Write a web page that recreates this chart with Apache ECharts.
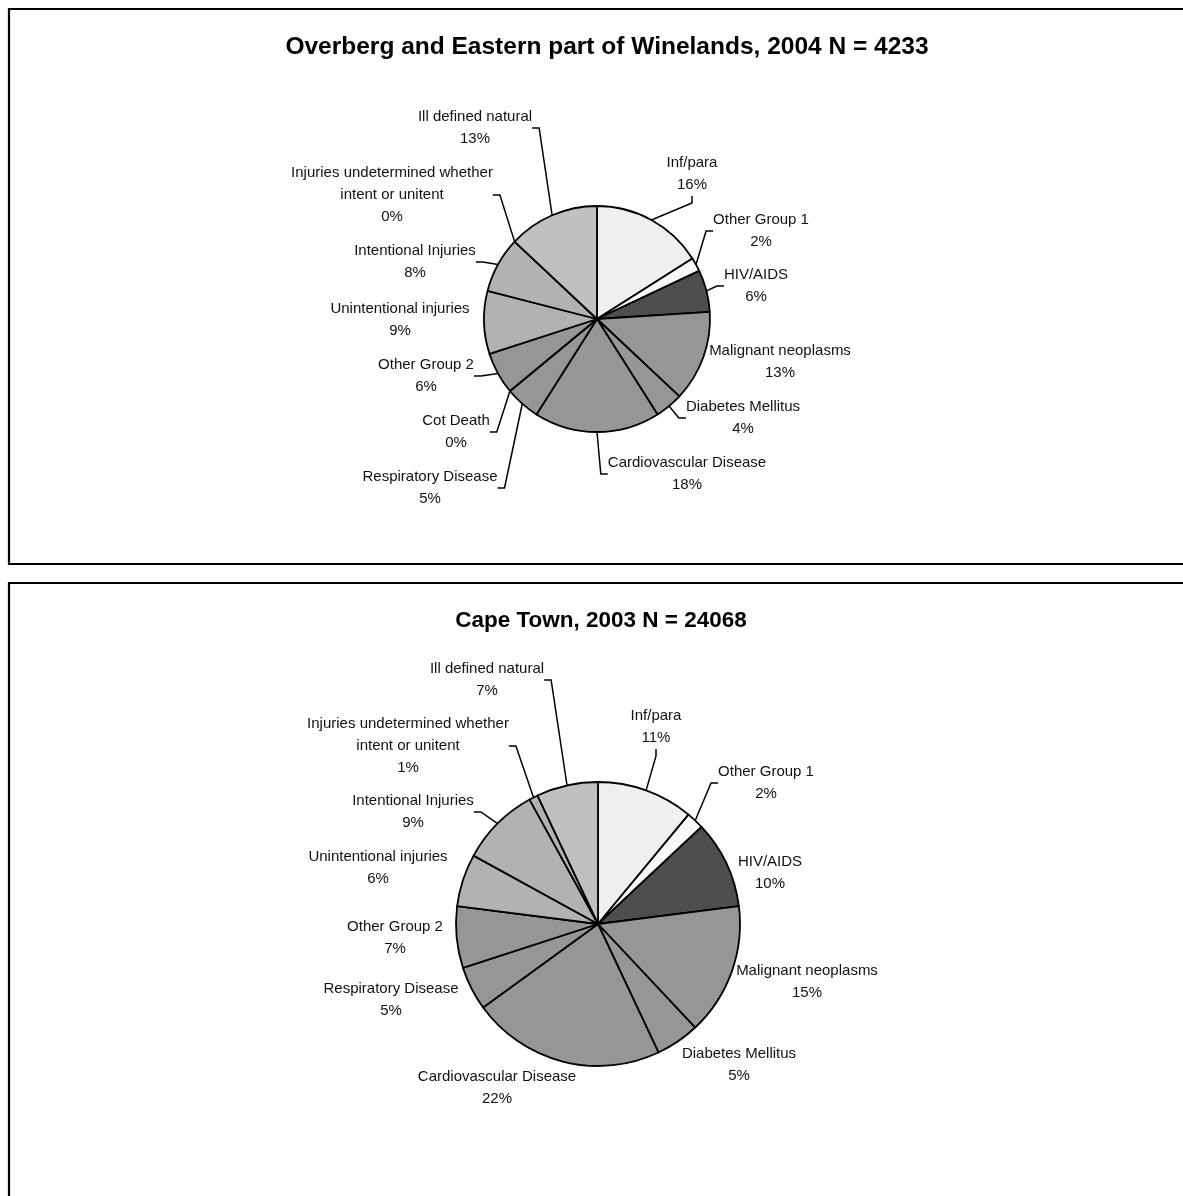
<!DOCTYPE html>
<html>
<head>
<meta charset="utf-8">
<title>Causes of death — Overberg / Eastern Winelands 2004 and Cape Town 2003</title>
<script src="https://cdn.jsdelivr.net/npm/echarts@6/dist/echarts.min.js"></script>
<style>
  html, body { margin: 0; padding: 0; background: #ffffff; }
  #chart { width: 1183px; height: 1196px; }
</style>
</head>
<body>
<div id="chart"></div>
<script>
// ---- Data -----------------------------------------------------------------
const overbergTitle = 'Overberg and Eastern part of Winelands, 2004 N = 4233';
const overbergCauses = [
  'Inf/para', 'Other Group 1', 'HIV/AIDS', 'Malignant neoplasms',
  'Diabetes Mellitus', 'Cardiovascular Disease', 'Respiratory Disease',
  'Cot Death', 'Other Group 2', 'Unintentional injuries',
  'Intentional Injuries', 'Injuries undetermined whether\nintent or unitent',
  'Ill defined natural'
];
const overbergShare = [16, 2, 6, 13, 4, 18, 5, 0, 6, 9, 8, 0, 13];

const capeTownTitle = 'Cape Town, 2003 N = 24068';
const capeTownCauses = [
  'Inf/para', 'Other Group 1', 'HIV/AIDS', 'Malignant neoplasms',
  'Diabetes Mellitus', 'Cardiovascular Disease', 'Respiratory Disease',
  'Other Group 2', 'Unintentional injuries', 'Intentional Injuries',
  'Injuries undetermined whether\nintent or unitent', 'Ill defined natural'
];
const capeTownShare = [11, 2, 10, 15, 5, 22, 5, 7, 6, 9, 1, 7];

// ---- Styling --------------------------------------------------------------
const FONT = "'Liberation Sans', Arial, Helvetica, sans-serif";

const causeShade = {
  'Inf/para': '#efefef',
  'Other Group 1': '#f9f9f9',
  'HIV/AIDS': '#4e4e4e',
  'Malignant neoplasms': '#969696',
  'Diabetes Mellitus': '#969696',
  'Cardiovascular Disease': '#969696',
  'Respiratory Disease': '#969696',
  'Cot Death': '#969696',
  'Other Group 2': '#969696',
  'Unintentional injuries': '#b2b2b2',
  'Intentional Injuries': '#b2b2b2',
  'Injuries undetermined whether\nintent or unitent': '#b2b2b2',
  'Ill defined natural': '#c0c0c0'
};

// Label block centres, as offsets from the pie centre (px)
const overbergLabelOffsets = [
  [95, -145], [164, -88], [159, -33], [183, 43], [146, 99], [90, 155],
  [-167, 169], [-141, 113], [-171, 57], [-197, 1], [-182, -57],
  [-205, -124], [-122, -191]
];
const capeTownLabelOffsets = [
  [58, -197], [168, -141], [172, -51], [209, 58], [141, 141], [-101, 164],
  [-207, 76], [-203, 14], [-220, -56], [-185, -112], [-190, -178],
  [-111, -244]
];

// Labels sitting close to their slice get no leader line
const overbergNoLeader = ['Malignant neoplasms', 'Unintentional injuries'];
const capeTownNoLeader = [
  'HIV/AIDS', 'Malignant neoplasms', 'Diabetes Mellitus',
  'Cardiovascular Disease', 'Respiratory Disease', 'Other Group 2',
  'Unintentional injuries'
];

function buildPie(causes, shares, center, radius, offsets, noLeader) {
  return {
    type: 'pie',
    center: center,
    radius: radius,
    startAngle: 90,
    clockwise: true,
    avoidLabelOverlap: false,
    animation: false,
    silent: true,
    itemStyle: { borderColor: '#000000', borderWidth: 1.8 },
    label: {
      show: true,
      position: 'outside',
      formatter: (p) => p.name + '\n' + p.value + '%',
      fontFamily: FONT,
      fontSize: 15,
      lineHeight: 22,
      color: '#111111'
    },
    labelLine: {
      show: true,
      length: 8,
      length2: 7,
      minTurnAngle: 0,
      lineStyle: { color: '#000000', width: 1.5 }
    },
    labelLayout: (params) => {
      const off = offsets[params.dataIndex];
      return {
        x: center[0] + off[0],
        y: center[1] + off[1],
        align: 'center',
        verticalAlign: 'middle'
      };
    },
    data: causes.map((name, i) => ({
      name: name,
      value: shares[i],
      itemStyle: { color: causeShade[name] },
      labelLine: { show: noLeader.indexOf(name) < 0 }
    }))
  };
}

const chart = echarts.init(document.getElementById('chart'), null, { renderer: 'canvas' });

chart.setOption({
  backgroundColor: '#ffffff',
  animation: false,
  title: [
    {
      text: overbergTitle,
      left: 602,
      top: 30,
      textAlign: 'center',
      textStyle: { fontFamily: FONT, fontSize: 24.5, fontWeight: 'bold', color: '#000000' }
    },
    {
      text: capeTownTitle,
      left: 596,
      top: 604,
      textAlign: 'center',
      textStyle: { fontFamily: FONT, fontSize: 22.5, fontWeight: 'bold', color: '#000000' }
    }
  ],
  graphic: [
    {
      type: 'rect',
      shape: { x: 9, y: 9, width: 1200, height: 555 },
      style: { fill: 'none', stroke: '#000000', lineWidth: 2.2 },
      z: -1
    },
    {
      type: 'rect',
      shape: { x: 9, y: 583, width: 1200, height: 700 },
      style: { fill: 'none', stroke: '#000000', lineWidth: 2.2 },
      z: -1
    }
  ],
  series: [
    buildPie(overbergCauses, overbergShare, [597, 319], 113,
             overbergLabelOffsets, overbergNoLeader),
    buildPie(capeTownCauses, capeTownShare, [598, 924], 142,
             capeTownLabelOffsets, capeTownNoLeader)
  ]
});
</script>
</body>
</html>
